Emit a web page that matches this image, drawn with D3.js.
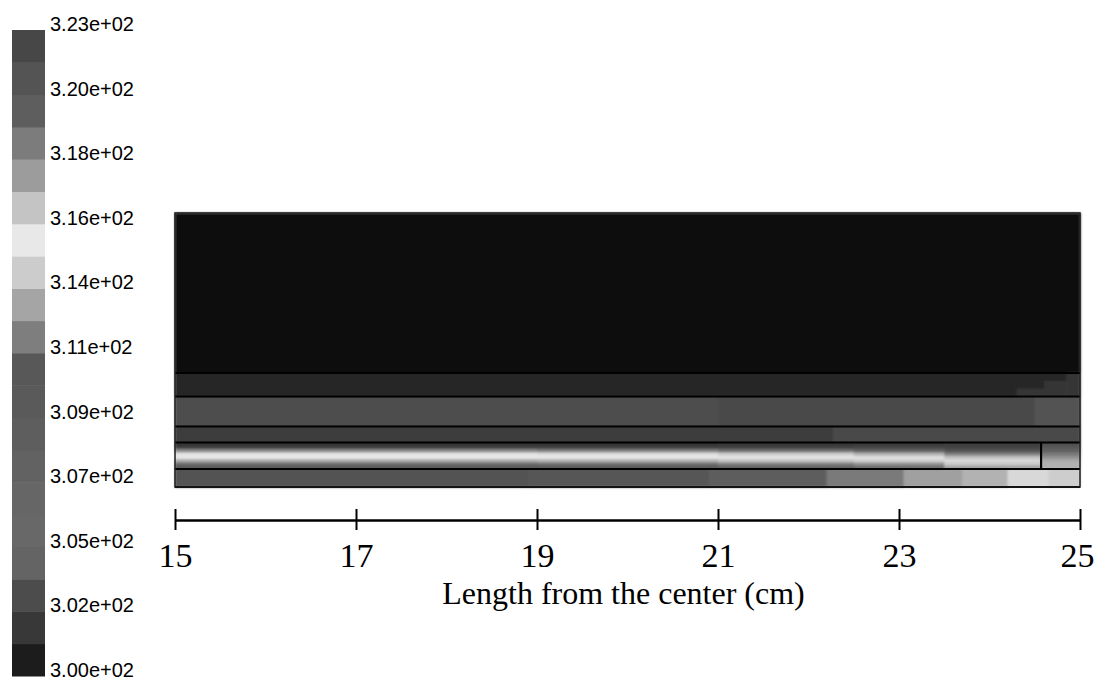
<!DOCTYPE html>
<html>
<head>
<meta charset="utf-8">
<script src="https://cdn.jsdelivr.net/npm/d3@7"></script>
<style>
  body { margin: 0; background: #fff; }
</style>
</head>
<body>
<svg id="chart" width="1095" height="680"></svg>
<script>
// x axis, cm from the center
var xTicks = [15, 17, 19, 21, 23, 25];
var xTitle = "Length from the center (cm)";

// colour bar labels, bottom to top (K)
var barLabels = ["3.00e+02", "3.02e+02", "3.05e+02", "3.07e+02", "3.09e+02", "3.11e+02",
                 "3.14e+02", "3.16e+02", "3.18e+02", "3.20e+02", "3.23e+02"];
var tMin = 300, tMax = 323, nBands = 20;

// layer edges, top to bottom (mm below the top of the model)
var layerEdges = [0, 16.0, 18.35, 21.35, 22.95, 25.6, 27.4];

// temperature (K) in each layer: x breaks (cm), then one row of values per sub-row
var airBreaks = [15, 25];
var airTemp = [[300.0]];

var layer1Breaks = [15, 24.3, 24.6, 24.85, 25];
var layer1Temp = [
  [301.0, 301.0, 301.0, 301.6],
  [301.0, 301.0, 301.6, 301.6],
  [301.0, 301.6, 301.6, 301.6]
];

var layer2Breaks = [15, 21, 24.5, 25];
var layer2Temp = [[302.9, 302.75, 303.2]];

var layer3Breaks = [15, 22.27, 25];
var layer3Temp = [[301.96, 302.65]];

var layer4Breaks = [15, 19, 21, 22.5, 23.5, 24.57, 25];
var layer4Temp = [
  [301.52, 301.52, 301.65, 301.73, 301.84, 303.07],
  [302.19, 302.19, 302.30, 302.42, 302.42, 303.45],
  [312.43, 312.13, 311.65, 303.84, 303.07, 303.84],
  [315.30, 315.10, 314.40, 313.55, 312.13, 311.89],
  [315.55, 315.55, 315.40, 315.20, 314.02, 312.61],
  [313.40, 313.60, 314.10, 314.54, 314.87, 313.31],
  [311.47, 311.65, 312.13, 312.61, 314.26, 313.55],
  [303.55, 303.55, 303.84, 311.47, 313.08, 313.55]
];

var layer5Breaks = [15, 18.9, 20.9, 22.2, 23.05, 23.7, 24.2, 24.65, 25];
var layer5Temp = [[303.15, 303.4, 303.7, 311.95, 313.08, 313.6, 314.87, 314.4]];

// wall inside layer 4
var wallX = 24.57, wallLayer = 4;

var layers = [
  {breaks: airBreaks, temp: airTemp},
  {breaks: layer1Breaks, temp: layer1Temp},
  {breaks: layer2Breaks, temp: layer2Temp},
  {breaks: layer3Breaks, temp: layer3Temp},
  {breaks: layer4Breaks, temp: layer4Temp},
  {breaks: layer5Breaks, temp: layer5Temp}
];

// grey version of the contour colour map, one shade per band (bottom to top)
var bandGreys = ["#1c1c1c", "#383838", "#4c4c4c", "#646464", "#686868", "#666666", "#626262",
                 "#5e5e5e", "#5a5a5a", "#585858", "#7e7e7e", "#a5a5a5", "#cccccc", "#e8e8e8",
                 "#c4c4c4", "#9c9c9c", "#7c7c7c", "#5e5e5e", "#545454", "#474747"];
var bandStep = (tMax - tMin) / nBands;
var mids = d3.range(nBands).map(function(i) { return tMin + (i + 0.5) * bandStep; });
var color = d3.scaleLinear()
              .domain([tMin].concat(mids))
              .range(["#0a0a0a"].concat(bandGreys))
              .clamp(true);

var svg = d3.select("#chart");

var x = d3.scaleLinear().domain([15, 25]).range([175, 1080]);
var y = d3.scaleLinear().domain([0, 27.4]).range([213, 487]);

// soft look of the scanned contour plot
var defs = svg.append("defs");
defs.append("filter")
    .attr("id", "soft")
    .attr("x", "-1%").attr("y", "-5%").attr("width", "102%").attr("height", "110%")
  .append("feGaussianBlur")
    .attr("stdDeviation", "1.3 1.2");

// cells
var cells = [];
layers.forEach(function(layer, li) {
  var top = layerEdges[li], bot = layerEdges[li + 1];
  var n = layer.temp.length;
  layer.temp.forEach(function(row, ri) {
    row.forEach(function(t, ci) {
      cells.push({
        x0: layer.breaks[ci], x1: layer.breaks[ci + 1],
        y0: top + (bot - top) * ri / n, y1: top + (bot - top) * (ri + 1) / n,
        t: t
      });
    });
  });
});

svg.append("g")
    .attr("filter", "url(#soft)")
  .selectAll("rect")
  .data(cells)
  .enter().append("rect")
    .attr("x", function(d) { return x(d.x0); })
    .attr("y", function(d) { return y(d.y0); })
    .attr("width", function(d) { return x(d.x1) - x(d.x0) + 0.5; })
    .attr("height", function(d) { return y(d.y1) - y(d.y0) + 0.5; })
    .attr("fill", function(d) { return color(d.t); });

// layer boundaries
svg.append("g")
  .selectAll("line")
  .data(layerEdges.slice(1))
  .enter().append("line")
    .attr("x1", x(15))
    .attr("x2", x(25))
    .attr("y1", function(d) { return y(d); })
    .attr("y2", function(d) { return y(d); })
    .attr("stroke", "#000")
    .attr("stroke-width", 2.2);

svg.append("line")
    .attr("x1", x(wallX)).attr("x2", x(wallX))
    .attr("y1", y(layerEdges[wallLayer])).attr("y2", y(layerEdges[wallLayer + 1]))
    .attr("stroke", "#000")
    .attr("stroke-width", 2.2);

svg.append("rect")
    .attr("x", x(15))
    .attr("y", y(0))
    .attr("width", x(25) - x(15))
    .attr("height", y(layerEdges[layerEdges.length - 1]) - y(0))
    .attr("fill", "none")
    .attr("stroke", "#1a1a1a")
    .attr("stroke-width", 1.5);

// x axis
var xAxis = d3.axisBottom(x)
              .tickValues(xTicks)
              .tickSizeOuter(0)
              .tickSizeInner(10);
var gx = svg.append("g")
    .attr("transform", "translate(0,520)")
    .call(xAxis);
gx.select(".domain").attr("stroke", "#000").attr("stroke-width", 2.5);
gx.selectAll(".tick line")
    .attr("y1", -11)
    .attr("y2", 10)
    .attr("stroke", "#000")
    .attr("stroke-width", 2);
gx.selectAll(".tick text")
    .attr("y", 47)
    .attr("dy", 0)
    .attr("fill", "#000")
    .style("font-family", "'Liberation Serif', 'Times New Roman', serif")
    .style("font-size", "34px");
// last label sits against the right edge of the page
gx.selectAll(".tick text")
    .filter(function(d) { return d === xTicks[xTicks.length - 1]; })
    .attr("text-anchor", "end")
    .attr("x", 14);

svg.append("text")
    .attr("x", x(20) - 4)
    .attr("y", 604)
    .attr("text-anchor", "middle")
    .style("font-family", "'Liberation Serif', 'Times New Roman', serif")
    .style("font-size", "32px")
    .text(xTitle);

// colour bar
var bandY = d3.scaleLinear().domain([0, nBands]).range([676, 30]);
svg.append("g")
  .selectAll("rect")
  .data(mids)
  .enter().append("rect")
    .attr("x", 12)
    .attr("width", 33)
    .attr("y", function(d, i) { return bandY(i + 1); })
    .attr("height", function(d, i) { return bandY(i) - bandY(i + 1) + 0.5; })
    .attr("fill", function(d) { return color(d); });

svg.append("g")
  .selectAll("text")
  .data(barLabels)
  .enter().append("text")
    .attr("x", 50)
    .attr("y", function(d, i) { return bandY(i * 2) + 1; })
    .style("font-family", "'Liberation Sans', Arial, sans-serif")
    .style("font-size", "20px")
    .text(function(d) { return d; });
</script>
</body>
</html>
